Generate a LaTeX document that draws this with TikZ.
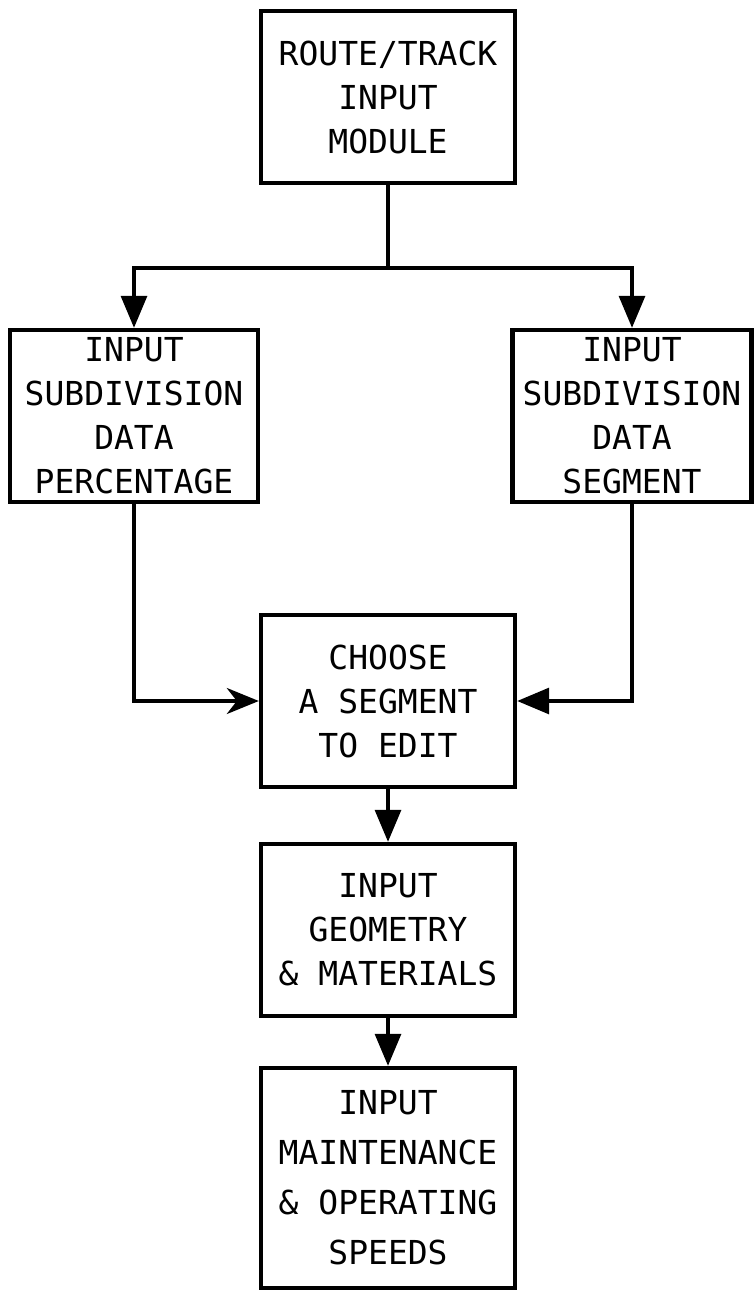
\documentclass[tikz,border=0pt]{standalone}
\usepackage{fontspec}
\setmainfont{DejaVu Sans Mono}
\usetikzlibrary{arrows.meta}

\begin{document}
\begin{tikzpicture}[x=0.5pt, y=-0.5pt, >={Triangle[length=16pt,width=13pt]},
    block/.style={rectangle, draw, line width=2.2pt, minimum width=127pt, minimum height=86pt, align=center, inner sep=1pt, font=\fontsize{16.5}{22}\selectfont},
    flow/.style={->, line width=1.6pt}]

\useasboundingbox (0,0) rectangle (754,1294);

\node [block] (route) at (388,97) {ROUTE/TRACK\\INPUT\\MODULE};
\node [block, minimum width=124pt] (perc) at (134,416) {INPUT\\SUBDIVISION\\DATA\\PERCENTAGE};
\node [block, minimum width=119.5pt] (segm) at (632,416) {INPUT\\SUBDIVISION\\DATA\\SEGMENT};
\node [block] (choose) at (388,701) {CHOOSE\\A SEGMENT\\TO EDIT};
\node [block] (geom) at (388,930) {INPUT\\GEOMETRY\\\& MATERIALS};
\node [block, minimum height=110pt, font=\fontsize{16.5}{25}\selectfont] (maint) at (388,1178) {INPUT\\MAINTENANCE\\\& OPERATING\\SPEEDS};

\coordinate (split) at (388,268);
\draw [line width=1.6pt] (route) -- (split);
\draw [flow] (split) -| (perc);
\draw [flow] (split) -| (segm);
\draw [flow, -{Stealth[length=16pt,width=13pt,inset=5pt]}] (perc) |- (choose);
\draw [flow] (segm) |- (choose);
\draw [flow] (choose) -- (geom);
\draw [flow] (geom) -- (maint);

\end{tikzpicture}
\end{document}
